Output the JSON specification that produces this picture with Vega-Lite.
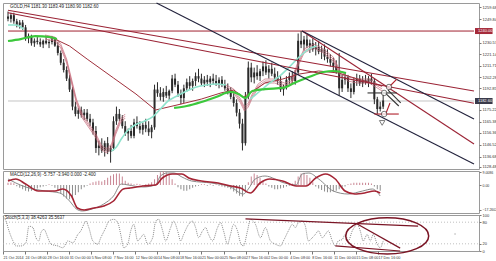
{
  "$schema": "https://vega.github.io/schema/vega-lite/v6.json",
  "background": "white",
  "padding": {"left": 0, "top": 1, "right": 0, "bottom": 0},
  "spacing": 2,
  "bounds": "flush",
  "config": {
    "font": "Liberation Sans",
    "view": {"stroke": "#9a9a9a", "strokeWidth": 1},
    "axis": {"labelFontSize": 4, "labelColor": "#333", "domain": false, "grid": false, "tickSize": 2, "tickColor": "#777", "labelPadding": 1}
  },
  "datasets": {
    "candles": [
      {"t":0,"o":1252,"h":1256,"l":1248,"c":1250},{"t":3,"o":1250,"h":1255,"l":1247,"c":1253},{"t":6,"o":1253,"h":1255,"l":1246,"c":1248},{"t":9,"o":1248,"h":1250,"l":1243,"c":1245},
      {"t":12,"o":1245,"h":1249,"l":1242,"c":1247},{"t":15,"o":1247,"h":1249,"l":1241,"c":1243},{"t":18,"o":1243,"h":1245,"l":1232,"c":1234},{"t":21,"o":1234,"h":1238,"l":1230,"c":1236},
      {"t":24,"o":1236,"h":1237,"l":1228,"c":1230},{"t":27,"o":1230,"h":1234,"l":1227,"c":1232},{"t":30,"o":1232,"h":1235,"l":1229,"c":1231},{"t":33,"o":1231,"h":1234,"l":1227,"c":1229},
      {"t":36,"o":1229,"h":1233,"l":1226,"c":1232},{"t":39,"o":1232,"h":1235,"l":1229,"c":1230},{"t":42,"o":1230,"h":1233,"l":1226,"c":1231},{"t":45,"o":1231,"h":1236,"l":1229,"c":1233},
      {"t":48,"o":1233,"h":1235,"l":1227,"c":1228},{"t":51,"o":1228,"h":1231,"l":1220,"c":1222},{"t":54,"o":1222,"h":1224,"l":1212,"c":1214},{"t":57,"o":1214,"h":1217,"l":1206,"c":1208},
      {"t":60,"o":1208,"h":1211,"l":1199,"c":1201},{"t":63,"o":1201,"h":1204,"l":1190,"c":1192},{"t":66,"o":1192,"h":1194,"l":1175,"c":1178},{"t":69,"o":1178,"h":1182,"l":1170,"c":1172},
      {"t":72,"o":1172,"h":1177,"l":1168,"c":1175},{"t":75,"o":1175,"h":1178,"l":1169,"c":1171},{"t":78,"o":1171,"h":1176,"l":1167,"c":1173},{"t":81,"o":1173,"h":1176,"l":1166,"c":1168},
      {"t":84,"o":1168,"h":1172,"l":1162,"c":1165},{"t":87,"o":1165,"h":1168,"l":1155,"c":1158},{"t":90,"o":1158,"h":1162,"l":1140,"c":1144},{"t":93,"o":1144,"h":1150,"l":1138,"c":1146},
      {"t":96,"o":1146,"h":1152,"l":1140,"c":1142},{"t":99,"o":1142,"h":1150,"l":1137,"c":1148},{"t":102,"o":1148,"h":1153,"l":1139,"c":1141},{"t":105,"o":1141,"h":1146,"l":1132,"c":1144},
      {"t":108,"o":1144,"h":1170,"l":1142,"c":1166},{"t":111,"o":1166,"h":1178,"l":1163,"c":1172},{"t":114,"o":1172,"h":1176,"l":1166,"c":1168},{"t":117,"o":1168,"h":1171,"l":1160,"c":1162},
      {"t":120,"o":1162,"h":1166,"l":1154,"c":1156},{"t":123,"o":1156,"h":1160,"l":1150,"c":1158},{"t":126,"o":1158,"h":1163,"l":1152,"c":1154},{"t":129,"o":1154,"h":1168,"l":1152,"c":1165},
      {"t":132,"o":1165,"h":1170,"l":1160,"c":1162},{"t":135,"o":1162,"h":1166,"l":1156,"c":1159},{"t":138,"o":1159,"h":1165,"l":1155,"c":1163},{"t":141,"o":1163,"h":1168,"l":1157,"c":1160},
      {"t":144,"o":1160,"h":1166,"l":1154,"c":1157},{"t":147,"o":1157,"h":1163,"l":1152,"c":1161},{"t":150,"o":1161,"h":1196,"l":1159,"c":1192},{"t":153,"o":1192,"h":1198,"l":1186,"c":1189},
      {"t":156,"o":1189,"h":1194,"l":1183,"c":1186},{"t":159,"o":1186,"h":1193,"l":1182,"c":1190},{"t":162,"o":1190,"h":1195,"l":1185,"c":1187},{"t":165,"o":1187,"h":1192,"l":1183,"c":1191},
      {"t":168,"o":1191,"h":1204,"l":1189,"c":1201},{"t":171,"o":1201,"h":1205,"l":1194,"c":1196},{"t":174,"o":1196,"h":1199,"l":1186,"c":1189},{"t":177,"o":1189,"h":1192,"l":1180,"c":1185},
      {"t":180,"o":1185,"h":1196,"l":1181,"c":1193},{"t":183,"o":1193,"h":1201,"l":1190,"c":1198},{"t":186,"o":1198,"h":1203,"l":1192,"c":1195},{"t":189,"o":1195,"h":1201,"l":1191,"c":1199},
      {"t":192,"o":1199,"h":1206,"l":1195,"c":1203},{"t":195,"o":1203,"h":1209,"l":1198,"c":1201},{"t":198,"o":1201,"h":1205,"l":1195,"c":1197},{"t":201,"o":1197,"h":1203,"l":1194,"c":1200},
      {"t":204,"o":1200,"h":1204,"l":1195,"c":1198},{"t":207,"o":1198,"h":1203,"l":1194,"c":1201},{"t":210,"o":1201,"h":1205,"l":1196,"c":1199},{"t":213,"o":1199,"h":1204,"l":1195,"c":1197},
      {"t":216,"o":1197,"h":1202,"l":1193,"c":1200},{"t":219,"o":1200,"h":1203,"l":1194,"c":1196},{"t":222,"o":1196,"h":1200,"l":1191,"c":1193},{"t":225,"o":1193,"h":1197,"l":1188,"c":1190},
      {"t":228,"o":1190,"h":1194,"l":1184,"c":1186},{"t":231,"o":1186,"h":1189,"l":1178,"c":1181},{"t":234,"o":1181,"h":1184,"l":1170,"c":1173},{"t":237,"o":1173,"h":1176,"l":1160,"c":1164},
      {"t":240,"o":1164,"h":1168,"l":1142,"c":1148},{"t":243,"o":1148,"h":1190,"l":1146,"c":1186},{"t":246,"o":1186,"h":1215,"l":1184,"c":1210},{"t":249,"o":1210,"h":1214,"l":1198,"c":1202},
      {"t":252,"o":1202,"h":1210,"l":1197,"c":1206},{"t":255,"o":1206,"h":1212,"l":1200,"c":1203},{"t":258,"o":1203,"h":1209,"l":1199,"c":1207},{"t":261,"o":1207,"h":1215,"l":1203,"c":1211},
      {"t":264,"o":1211,"h":1216,"l":1204,"c":1206},{"t":267,"o":1206,"h":1212,"l":1201,"c":1209},{"t":270,"o":1209,"h":1214,"l":1203,"c":1205},{"t":273,"o":1205,"h":1210,"l":1199,"c":1202},
      {"t":276,"o":1202,"h":1207,"l":1196,"c":1199},{"t":279,"o":1199,"h":1203,"l":1190,"c":1192},{"t":282,"o":1192,"h":1196,"l":1187,"c":1194},{"t":285,"o":1194,"h":1203,"l":1192,"c":1200},
      {"t":288,"o":1200,"h":1206,"l":1196,"c":1203},{"t":291,"o":1203,"h":1207,"l":1197,"c":1199},{"t":294,"o":1199,"h":1208,"l":1196,"c":1206},{"t":297,"o":1206,"h":1238,"l":1204,"c":1232},
      {"t":300,"o":1232,"h":1240,"l":1226,"c":1229},{"t":303,"o":1229,"h":1236,"l":1224,"c":1233},{"t":306,"o":1233,"h":1237,"l":1226,"c":1228},{"t":309,"o":1228,"h":1233,"l":1222,"c":1230},
      {"t":312,"o":1230,"h":1234,"l":1223,"c":1225},{"t":315,"o":1225,"h":1231,"l":1220,"c":1227},{"t":318,"o":1227,"h":1232,"l":1221,"c":1223},{"t":321,"o":1223,"h":1228,"l":1217,"c":1225},
      {"t":324,"o":1225,"h":1229,"l":1216,"c":1219},{"t":327,"o":1219,"h":1225,"l":1214,"c":1217},{"t":330,"o":1217,"h":1221,"l":1211,"c":1214},{"t":333,"o":1214,"h":1218,"l":1208,"c":1211},
      {"t":336,"o":1211,"h":1216,"l":1205,"c":1207},{"t":339,"o":1207,"h":1222,"l":1187,"c":1193},{"t":342,"o":1193,"h":1204,"l":1190,"c":1200},{"t":345,"o":1200,"h":1206,"l":1196,"c":1202},
      {"t":348,"o":1202,"h":1204,"l":1190,"c":1193},{"t":351,"o":1193,"h":1197,"l":1185,"c":1190},{"t":354,"o":1190,"h":1202,"l":1188,"c":1199},{"t":357,"o":1199,"h":1205,"l":1195,"c":1201},
      {"t":360,"o":1201,"h":1204,"l":1195,"c":1197},{"t":363,"o":1197,"h":1203,"l":1194,"c":1200},{"t":366,"o":1200,"h":1204,"l":1196,"c":1198},{"t":369,"o":1198,"h":1203,"l":1194,"c":1201},
      {"t":372,"o":1201,"h":1205,"l":1196,"c":1199},{"t":375,"o":1199,"h":1201,"l":1180,"c":1184},{"t":378,"o":1184,"h":1186,"l":1172,"c":1176},{"t":381,"o":1176,"h":1182,"l":1174,"c":1178},
      {"t":384,"o":1178,"h":1188,"l":1176,"c":1183}
    ],
    "ma": [
      {"s":"green","g":1,"t":0,"p":1231.8},{"s":"green","g":1,"t":13,"p":1233.4},{"s":"green","g":1,"t":28,"p":1235.9},{"s":"green","g":1,"t":43,"p":1235.1},{"s":"green","g":1,"t":50,"p":1233.4},
      {"s":"green","g":2,"t":170,"p":1176.9},{"s":"green","g":2,"t":183,"p":1178.5},{"s":"green","g":2,"t":198,"p":1181.8},{"s":"green","g":2,"t":213,"p":1185.9},{"s":"green","g":2,"t":228,"p":1190.0},
      {"s":"green","g":2,"t":236,"p":1188.3},{"s":"green","g":2,"t":243,"p":1185.1},{"s":"green","g":2,"t":250,"p":1190.8},{"s":"green","g":2,"t":263,"p":1192.4},{"s":"green","g":2,"t":281,"p":1193.3},
      {"s":"green","g":2,"t":293,"p":1197.4},{"s":"green","g":2,"t":308,"p":1202.3},{"s":"green","g":2,"t":323,"p":1206.4},{"s":"green","g":2,"t":333,"p":1207.2},{"s":"green","g":2,"t":346,"p":1205.6},
      {"s":"cyan","g":1,"t":0,"p":1244.9},{"s":"cyan","g":1,"t":8,"p":1244.9},{"s":"cyan","g":1,"t":16,"p":1241.6},
      {"s":"cyan","g":2,"t":106,"p":1141.6},{"s":"cyan","g":2,"t":111,"p":1144.9},{"s":"cyan","g":2,"t":116,"p":1151.4},{"s":"cyan","g":2,"t":122,"p":1158.0},{"s":"cyan","g":2,"t":130,"p":1162.9},
      {"s":"cyan","g":2,"t":140,"p":1166.2},{"s":"cyan","g":2,"t":148,"p":1169.5},{"s":"cyan","g":2,"t":156,"p":1176.0},{"s":"cyan","g":2,"t":164,"p":1182.6},{"s":"cyan","g":2,"t":173,"p":1186.7},
      {"s":"cyan","g":2,"t":183,"p":1190.8},{"s":"cyan","g":2,"t":193,"p":1194.1},{"s":"cyan","g":2,"t":203,"p":1195.7},{"s":"cyan","g":2,"t":213,"p":1196.5},{"s":"cyan","g":2,"t":223,"p":1195.7},
      {"s":"cyan","g":3,"t":248,"p":1184.2},{"s":"cyan","g":3,"t":258,"p":1190.8},{"s":"cyan","g":3,"t":268,"p":1197.4},{"s":"cyan","g":3,"t":278,"p":1203.1},{"s":"cyan","g":3,"t":288,"p":1210.5},
      {"s":"cyan","g":3,"t":298,"p":1218.7},{"s":"cyan","g":3,"t":308,"p":1225.2},{"s":"cyan","g":3,"t":316,"p":1227.7},
      {"s":"maroon","g":1,"t":38,"p":1235.9},{"s":"maroon","g":1,"t":48,"p":1233.4},{"s":"maroon","g":1,"t":63,"p":1227.7},{"s":"maroon","g":1,"t":81,"p":1217.0},{"s":"maroon","g":1,"t":108,"p":1201.5},
      {"s":"maroon","g":1,"t":131,"p":1188.3},{"s":"maroon","g":1,"t":151,"p":1175.2},{"s":"maroon","g":1,"t":173,"p":1179.3},{"s":"maroon","g":1,"t":198,"p":1184.2},{"s":"maroon","g":1,"t":218,"p":1189.2},
      {"s":"maroon","g":1,"t":231,"p":1191.6},{"s":"maroon","g":1,"t":241,"p":1185.9},{"s":"maroon","g":1,"t":248,"p":1189.2},{"s":"maroon","g":1,"t":263,"p":1197.4},{"s":"maroon","g":1,"t":281,"p":1200.6},
      {"s":"maroon","g":1,"t":298,"p":1204.7},{"s":"maroon","g":1,"t":318,"p":1207.2},{"s":"maroon","g":1,"t":338,"p":1205.6},{"s":"maroon","g":1,"t":358,"p":1200.6},{"s":"maroon","g":1,"t":383,"p":1194.9},
      {"s":"band","g":1,"t":38,"p":1235.1},{"s":"band","g":1,"t":48,"p":1233.4},{"s":"band","g":1,"t":54,"p":1227.7},{"s":"band","g":1,"t":60,"p":1215.4},{"s":"band","g":1,"t":65,"p":1199.0},
      {"s":"band","g":1,"t":70,"p":1182.6},{"s":"band","g":1,"t":76,"p":1170.3},{"s":"band","g":1,"t":83,"p":1162.1},{"s":"band","g":1,"t":90,"p":1153.9},{"s":"band","g":1,"t":96,"p":1144.1},
      {"s":"band","g":1,"t":101,"p":1141.6},{"s":"band","g":1,"t":106,"p":1145.7},{"s":"band","g":1,"t":110,"p":1156.4},{"s":"band","g":1,"t":115,"p":1166.2},{"s":"band","g":1,"t":120,"p":1170.3},
      {"s":"band","g":2,"t":223,"p":1194.1},{"s":"band","g":2,"t":231,"p":1190.8},{"s":"band","g":2,"t":238,"p":1182.6},{"s":"band","g":2,"t":242,"p":1176.0},{"s":"band","g":2,"t":246,"p":1179.3},
      {"s":"band","g":2,"t":250,"p":1186.7},{"s":"band","g":2,"t":256,"p":1194.9},{"s":"band","g":2,"t":263,"p":1199.0},{"s":"band","g":2,"t":273,"p":1199.0},{"s":"band","g":2,"t":283,"p":1195.7},
      {"s":"band","g":2,"t":290,"p":1197.4},{"s":"band","g":2,"t":296,"p":1211.3},{"s":"band","g":2,"t":303,"p":1223.6},{"s":"band","g":2,"t":313,"p":1227.7},{"s":"band","g":2,"t":323,"p":1223.6},
      {"s":"band","g":2,"t":333,"p":1217.0},{"s":"band","g":2,"t":340,"p":1205.6},{"s":"band","g":2,"t":348,"p":1200.6},{"s":"band","g":2,"t":358,"p":1199.0},{"s":"band","g":2,"t":370,"p":1199.0},
      {"s":"band","g":2,"t":383,"p":1192.4}
    ],
    "segs": [
      {"grp":"trend","t":0,"p":1257.0,"t2":477,"p2":1190.8},
      {"grp":"trend","t":0,"p":1255.0,"t2":477,"p2":1180.8},
      {"grp":"trend","t":301,"p":1240.0,"t2":477,"p2":1147.3},
      {"grp":"channel","t":301,"p":1240.0,"t2":477,"p2":1167.8},
      {"grp":"channel","t":152,"p":1263.0,"t2":477,"p2":1130.9},
      {"grp":"noteb","t":368,"p":1189.2,"t2":398,"p2":1189.2},
      {"grp":"noteb","t":386,"p":1189.2,"t2":400,"p2":1178.5},
      {"grp":"noteb","t":389,"p":1191.6,"t2":402,"p2":1181.0},
      {"grp":"note","t":391,"p":1194.9,"t2":398,"p2":1200.6},
      {"grp":"note","t":375,"p":1171.9,"t2":400,"p2":1171.9},
      {"grp":"note","t":387,"p":1172.8,"t2":391,"p2":1180.9}
    ],
    "marks": [
      {"t":385,"p":1189.2,"sym":"circle"},
      {"t":390,"p":1194.1,"sym":"circle"},
      {"t":385,"p":1171.9,"sym":"circle"},
      {"t":383,"p":1164.6,"sym":"triangle-down"}
    ],
    "levels": [{"t":0,"t2":477,"p":1240.0,"grp":"trend"},{"t":0,"t2":477,"p":1182.6,"grp":"cur"}],
    "tags": [{"t":478,"t2":496,"p":1240.0,"lbl":"1240.00","grp":"trend"},{"t":478,"t2":496,"p":1182.6,"lbl":"1182.60","grp":"cur"}],
    "macd": [
      {"k":"main","t":0,"v":4.2},{"k":"main","t":8,"v":1.4},{"k":"main","t":18,"v":-1.4},{"k":"main","t":38,"v":-4.2},{"k":"main","t":53,"v":-5.6},{"k":"main","t":63,"v":-11.2},
      {"k":"main","t":70,"v":-16.8},{"k":"main","t":76,"v":-18.2},{"k":"main","t":86,"v":-16.8},{"k":"main","t":98,"v":-13.3},{"k":"main","t":108,"v":-7.7},{"k":"main","t":116,"v":0.7},
      {"k":"main","t":123,"v":0},{"k":"main","t":138,"v":-1.4},{"k":"main","t":151,"v":0},{"k":"main","t":156,"v":6.3},{"k":"main","t":163,"v":8.4},{"k":"main","t":170,"v":8.4},
      {"k":"main","t":178,"v":5.6},{"k":"main","t":188,"v":2.8},{"k":"main","t":208,"v":1.4},{"k":"main","t":228,"v":-1.4},{"k":"main","t":241,"v":-6.3},{"k":"main","t":246,"v":-2.8},
      {"k":"main","t":253,"v":4.2},{"k":"main","t":263,"v":6.3},{"k":"main","t":283,"v":1.4},{"k":"main","t":295,"v":0},{"k":"main","t":301,"v":7.7},{"k":"main","t":308,"v":8.4},
      {"k":"main","t":318,"v":4.2},{"k":"main","t":333,"v":-4.2},{"k":"main","t":348,"v":-6.3},{"k":"main","t":363,"v":-4.2},{"k":"main","t":373,"v":-2.8},{"k":"main","t":381,"v":-7.7},
      {"k":"sig","t":0,"v":2.8},{"k":"sig","t":8,"v":4.2},{"k":"sig","t":18,"v":0.7},{"k":"sig","t":31,"v":-4.2},{"k":"sig","t":48,"v":-4.2},{"k":"sig","t":56,"v":-2.8},
      {"k":"sig","t":65,"v":-7.7},{"k":"sig","t":71,"v":-16.1},{"k":"sig","t":78,"v":-17.5},{"k":"sig","t":88,"v":-16.1},{"k":"sig","t":98,"v":-14.7},{"k":"sig","t":108,"v":-11.2},
      {"k":"sig","t":118,"v":-2.8},{"k":"sig","t":125,"v":-2.1},{"k":"sig","t":138,"v":-0.7},{"k":"sig","t":151,"v":0},{"k":"sig","t":158,"v":4.9},{"k":"sig","t":168,"v":7.7},
      {"k":"sig","t":178,"v":7.7},{"k":"sig","t":185,"v":4.9},{"k":"sig","t":198,"v":2.8},{"k":"sig","t":215,"v":1.4},{"k":"sig","t":228,"v":-0.7},{"k":"sig","t":238,"v":-2.1},
      {"k":"sig","t":248,"v":-5.6},{"k":"sig","t":258,"v":1.4},{"k":"sig","t":268,"v":4.2},{"k":"sig","t":281,"v":2.8},{"k":"sig","t":295,"v":-0.7},{"k":"sig","t":305,"v":-0.7},
      {"k":"sig","t":315,"v":4.9},{"k":"sig","t":325,"v":7.7},{"k":"sig","t":335,"v":4.2},{"k":"sig","t":345,"v":-4.2},{"k":"sig","t":355,"v":-6.3},{"k":"sig","t":365,"v":-5.6},
      {"k":"sig","t":375,"v":-4.2},{"k":"sig","t":381,"v":-5.6}
    ],
    "hist": [
      {"t":0,"v":1.5},{"t":3,"v":1.8},{"t":6,"v":1.2},{"t":9,"v":-0.8},{"t":12,"v":-2},{"t":15,"v":-3},{"t":18,"v":-4},{"t":21,"v":-4.5},{"t":24,"v":-4},{"t":27,"v":-3.5},
      {"t":30,"v":-2.5},{"t":33,"v":-1.5},{"t":36,"v":-1},{"t":39,"v":-0.5},{"t":42,"v":0.5},{"t":45,"v":-0.5},{"t":48,"v":-2},{"t":51,"v":-4},{"t":54,"v":-6},{"t":57,"v":-8},
      {"t":60,"v":-9.5},{"t":63,"v":-10},{"t":66,"v":-9},{"t":69,"v":-7},{"t":72,"v":-5},{"t":75,"v":-3},{"t":78,"v":-1.5},{"t":81,"v":-0.5},{"t":84,"v":1},{"t":87,"v":2},
      {"t":90,"v":2.5},{"t":93,"v":3},{"t":96,"v":2.5},{"t":99,"v":3.5},{"t":102,"v":5},{"t":105,"v":6.5},{"t":108,"v":7.5},{"t":111,"v":8},{"t":114,"v":8},{"t":117,"v":6},
      {"t":120,"v":3},{"t":123,"v":1.5},{"t":126,"v":1},{"t":129,"v":0.5},{"t":132,"v":0.8},{"t":135,"v":0.5},{"t":138,"v":-0.5},{"t":141,"v":0.5},{"t":144,"v":1},{"t":147,"v":2},
      {"t":150,"v":4},{"t":153,"v":7},{"t":156,"v":9},{"t":159,"v":9.6},{"t":162,"v":9},{"t":165,"v":7},{"t":168,"v":4},{"t":171,"v":1},{"t":174,"v":-1.5},{"t":177,"v":-3},
      {"t":180,"v":-4},{"t":183,"v":-4},{"t":186,"v":-3},{"t":189,"v":-2},{"t":192,"v":-1},{"t":195,"v":-0.5},{"t":198,"v":0.5},{"t":201,"v":0.5},{"t":204,"v":-0.5},{"t":207,"v":0.5},
      {"t":210,"v":-0.5},{"t":213,"v":0.5},{"t":216,"v":-0.5},{"t":219,"v":-1},{"t":222,"v":-1.5},{"t":225,"v":-2},{"t":228,"v":-3},{"t":231,"v":-4.5},{"t":234,"v":-6},{"t":237,"v":-7.5},
      {"t":240,"v":-8},{"t":243,"v":-5},{"t":246,"v":2},{"t":249,"v":6},{"t":252,"v":8},{"t":255,"v":7},{"t":258,"v":5},{"t":261,"v":3},{"t":264,"v":1},{"t":267,"v":-1},
      {"t":270,"v":-2},{"t":273,"v":-3},{"t":276,"v":-3},{"t":279,"v":-2.5},{"t":282,"v":-2},{"t":285,"v":-1},{"t":288,"v":-0.5},{"t":291,"v":1},{"t":294,"v":3},{"t":297,"v":6},
      {"t":300,"v":8},{"t":303,"v":8.5},{"t":306,"v":7},{"t":309,"v":5},{"t":312,"v":2},{"t":315,"v":-1},{"t":318,"v":-2.5},{"t":321,"v":-3.5},{"t":324,"v":-4.5},{"t":327,"v":-5},
      {"t":330,"v":-5},{"t":333,"v":-4.5},{"t":336,"v":-4},{"t":339,"v":-3},{"t":342,"v":-2},{"t":345,"v":-1},{"t":348,"v":0.5},{"t":351,"v":1},{"t":354,"v":1.5},{"t":357,"v":1.5},
      {"t":360,"v":1.5},{"t":363,"v":1.5},{"t":366,"v":1.5},{"t":369,"v":1.5},{"t":372,"v":1},{"t":375,"v":-1},{"t":378,"v":-3},{"t":381,"v":-4}
    ],
    "stoch": [
      {"t":0,"v":97},{"t":3,"v":83},{"t":6,"v":56},{"t":10,"v":28},{"t":13,"v":14},{"t":18,"v":14},{"t":23,"v":23},{"t":26,"v":69},{"t":30,"v":65},{"t":33,"v":37},
      {"t":36,"v":28},{"t":38,"v":51},{"t":41,"v":60},{"t":45,"v":37},{"t":48,"v":19},{"t":55,"v":14},{"t":60,"v":9},{"t":65,"v":28},{"t":70,"v":23},{"t":75,"v":46},
      {"t":78,"v":56},{"t":81,"v":74},{"t":83,"v":83},{"t":86,"v":65},{"t":90,"v":28},{"t":95,"v":19},{"t":98,"v":37},{"t":103,"v":65},{"t":106,"v":83},{"t":111,"v":88},
      {"t":115,"v":79},{"t":118,"v":46},{"t":121,"v":9},{"t":125,"v":19},{"t":128,"v":56},{"t":131,"v":74},{"t":135,"v":28},{"t":138,"v":37},{"t":141,"v":46},{"t":145,"v":19},
      {"t":150,"v":37},{"t":153,"v":83},{"t":156,"v":88},{"t":160,"v":56},{"t":163,"v":28},{"t":168,"v":65},{"t":171,"v":83},{"t":175,"v":56},{"t":178,"v":28},{"t":181,"v":46},
      {"t":186,"v":74},{"t":190,"v":83},{"t":193,"v":65},{"t":196,"v":37},{"t":200,"v":56},{"t":203,"v":65},{"t":206,"v":46},{"t":210,"v":28},{"t":215,"v":65},{"t":218,"v":79},
      {"t":221,"v":56},{"t":225,"v":19},{"t":228,"v":46},{"t":231,"v":74},{"t":235,"v":56},{"t":238,"v":23},{"t":241,"v":14},{"t":245,"v":56},{"t":248,"v":88},{"t":253,"v":74},
      {"t":258,"v":37},{"t":263,"v":65},{"t":268,"v":28},{"t":273,"v":19},{"t":278,"v":14},{"t":281,"v":28},{"t":286,"v":56},{"t":290,"v":74},{"t":293,"v":65},{"t":296,"v":79},
      {"t":300,"v":83},{"t":303,"v":69},{"t":306,"v":28},{"t":310,"v":37},{"t":313,"v":46},{"t":316,"v":56},{"t":320,"v":37},{"t":323,"v":46},{"t":326,"v":56},{"t":330,"v":28},
      {"t":333,"v":14},{"t":336,"v":28},{"t":340,"v":32},{"t":343,"v":46},{"t":346,"v":28},{"t":350,"v":56},{"t":353,"v":69},{"t":355,"v":74},{"t":358,"v":56},{"t":361,"v":28},
      {"t":365,"v":46},{"t":368,"v":28},{"t":371,"v":46},{"t":375,"v":19},{"t":378,"v":9},{"t":381,"v":28}
    ],
    "sseg": [
      {"t":243,"v":89,"t2":416,"v2":69},
      {"t":355,"v":75,"t2":398,"v2":8},
      {"t":333,"v":14,"t2":398,"v2":0}
    ],
    "slevels": [{"t":0,"t2":477,"v":80},{"t":0,"t2":477,"v":20}]
  },
  "vconcat": [
    {
      "width": 476,
      "height": 166,
      "resolve": {"scale": {"color": "independent"}},
      "encoding": {
        "x": {"field": "t", "type": "quantitative", "scale": {"domain": [0, 477], "nice": false, "zero": false}, "axis": null},
        "y": {"field": "p", "type": "quantitative", "scale": {"domain": [1126.8, 1263.0], "nice": false, "zero": false},
              "axis": {"orient": "right", "title": null, "values": [1259.68,1249.84,1230.57,1221.14,1211.71,1202.28,1192.85,1175.22,1165.38,1156.36,1146.52,1136.68,1128.48], "format": ".2f", "labelOverlap": false}}
      },
      "layer": [
        {
          "data": {"name": "levels"},
          "mark": {"type": "rule", "strokeWidth": 1},
          "encoding": {
            "x2": {"field": "t2"},
            "color": {"field": "grp", "type": "nominal", "scale": {"domain": ["trend","cur"], "range": ["#a02030","#c4c4c4"]}, "legend": null}
          }
        },
        {
          "data": {"name": "candles"},
          "mark": {"type": "rule", "color": "#2a2a2a", "strokeWidth": 1},
          "encoding": {
            "y": {"field": "l", "type": "quantitative",
                  "axis": {"orient": "right", "title": null, "values": [1259.68,1249.84,1230.57,1221.14,1211.71,1202.28,1192.85,1175.22,1165.38,1156.36,1146.52,1136.68,1128.48], "format": ".2f", "labelOverlap": false}},
            "y2": {"field": "h"}
          }
        },
        {
          "data": {"name": "candles"},
          "mark": {"type": "bar", "width": 2, "color": "#2a2a2a"},
          "encoding": {
            "y": {"field": "o", "type": "quantitative",
                  "axis": {"orient": "right", "title": null, "values": [1259.68,1249.84,1230.57,1221.14,1211.71,1202.28,1192.85,1175.22,1165.38,1156.36,1146.52,1136.68,1128.48], "format": ".2f", "labelOverlap": false}},
            "y2": {"field": "c"}
          }
        },
        {
          "data": {"name": "ma"},
          "transform": [{"filter": "datum.s == 'band'"}],
          "mark": {"type": "line", "color": "#c66a7a", "strokeWidth": 0.7, "yOffset": -2},
          "encoding": {"detail": {"field": "g"}}
        },
        {
          "data": {"name": "ma"},
          "transform": [{"filter": "datum.s == 'band'"}],
          "mark": {"type": "line", "color": "#c66a7a", "strokeWidth": 0.7},
          "encoding": {"detail": {"field": "g"}}
        },
        {
          "data": {"name": "ma"},
          "transform": [{"filter": "datum.s == 'band'"}],
          "mark": {"type": "line", "color": "#c66a7a", "strokeWidth": 0.7, "yOffset": 2},
          "encoding": {"detail": {"field": "g"}}
        },
        {
          "data": {"name": "ma"},
          "transform": [{"filter": "datum.s == 'maroon'"}],
          "mark": {"type": "line", "color": "#a0303c", "strokeWidth": 1},
          "encoding": {"detail": {"field": "g"}}
        },
        {
          "data": {"name": "ma"},
          "transform": [{"filter": "datum.s == 'cyan'"}],
          "mark": {"type": "line", "color": "#8fe3cd", "strokeWidth": 1.6, "interpolate": "monotone"},
          "encoding": {"detail": {"field": "g"}}
        },
        {
          "data": {"name": "ma"},
          "transform": [{"filter": "datum.s == 'green'"}],
          "mark": {"type": "line", "color": "#3cc83c", "strokeWidth": 2.2, "interpolate": "monotone"},
          "encoding": {"detail": {"field": "g"}}
        },
        {
          "data": {"name": "segs"},
          "mark": {"type": "rule", "strokeWidth": 1.1},
          "encoding": {
            "x2": {"field": "t2"},
            "y2": {"field": "p2"},
            "color": {"field": "grp", "type": "nominal", "scale": {"domain": ["trend","channel","note","noteb"], "range": ["#9b2335","#22223c","#b0202c","#333333"]}, "legend": null}
          }
        },
        {
          "data": {"name": "marks"},
          "mark": {"type": "point", "filled": true, "fill": "white", "stroke": "#444", "strokeWidth": 1, "size": 30},
          "encoding": {
            "shape": {"field": "sym", "type": "nominal", "scale": {"domain": ["circle","triangle-down"], "range": ["circle","triangle-down"]}, "legend": null}
          }
        },
        {
          "data": {"values": [{"t": 2, "p": 1262.0, "txt": "GOLD,H4  1181.30 1183.49 1180.90 1182.60"}]},
          "mark": {"type": "text", "align": "left", "baseline": "top", "fontSize": 4.5, "color": "#222"},
          "encoding": {"text": {"field": "txt"}}
        },
        {
          "data": {"name": "tags"},
          "mark": {"type": "rect", "height": 6},
          "encoding": {
            "x2": {"field": "t2"},
            "color": {"field": "grp", "type": "nominal", "scale": {"domain": ["trend","cur"], "range": ["#a52a3a","#3a3a4a"]}, "legend": null}
          }
        },
        {
          "data": {"name": "tags"},
          "mark": {"type": "text", "align": "left", "baseline": "middle", "fontSize": 4, "color": "white", "dx": 3},
          "encoding": {"text": {"field": "lbl"}}
        }
      ]
    },
    {
      "width": 476,
      "height": 42,
      "encoding": {
        "x": {"field": "t", "type": "quantitative", "scale": {"domain": [0, 477], "nice": false, "zero": false}, "axis": null},
        "y": {"field": "v", "type": "quantitative", "scale": {"domain": [-19.6, 9.8], "nice": false, "zero": false},
              "axis": {"orient": "right", "title": null, "values": [9.0086, 0, -17.2602], "labelExpr": "datum.value == 0 ? '0.00' : format(datum.value, '.4f')", "labelOverlap": false, "labelFontSize": 3.5}}
      },
      "layer": [
        {
          "data": {"name": "hist"},
          "mark": {"type": "bar", "width": 1},
          "encoding": {
            "y2": {"datum": 0},
            "color": {"condition": {"test": "datum.v > 0", "value": "#c98593"}, "value": "#8c8c8c"}
          }
        },
        {
          "data": {"name": "macd"},
          "transform": [{"filter": "datum.k == 'main'"}],
          "mark": {"type": "line", "color": "#8a8a8a", "strokeWidth": 1, "interpolate": "monotone"}
        },
        {
          "data": {"name": "macd"},
          "transform": [{"filter": "datum.k == 'sig'"}],
          "mark": {"type": "line", "color": "#a52535", "strokeWidth": 1.6, "interpolate": "monotone"}
        },
        {
          "data": {"values": [{"t": 2, "v": 9.4, "txt": "MACD(12,26,9) -5.757 -3.940 0.000 -2.400"}]},
          "mark": {"type": "text", "align": "left", "baseline": "top", "fontSize": 4.5, "color": "#222"},
          "encoding": {"text": {"field": "txt"}}
        }
      ]
    },
    {
      "width": 476,
      "height": 36,
      "encoding": {
        "x": {"field": "t", "type": "quantitative", "scale": {"domain": [0, 477], "nice": false, "zero": false},
              "axis": {"orient": "bottom", "title": null, "values": [0,22.1,44.2,66.3,88.4,110.5,132.6,154.7,176.8,198.9,221,243.1,265.2,287.3,309.4,331.5,353.6,375.7],
                       "labelExpr": "['21 Oct 2014','24 Oct 08:00','28 Oct 16:00','31 Oct 00:00','5 Nov 08:00','7 Nov 16:00','12 Nov 00:00','14 Nov 08:00','18 Nov 16:00','21 Nov 00:00','25 Nov 08:00','27 Nov 16:00','2 Dec 00:00','4 Dec 08:00','8 Dec 16:00','11 Dec 00:00','15 Dec 08:00','17 Dec 16:00'][round(datum.value / 22.1)]",
                       "labelAlign": "left", "labelBaseline": "top", "tickSize": 3, "labelPadding": 1, "labelFontSize": 3.7, "labelOverlap": false, "labelFlush": false, "labelBound": false}},
        "y": {"field": "v", "type": "quantitative", "scale": {"domain": [0, 100], "nice": false},
              "axis": {"orient": "right", "title": null, "values": [100, 80, 20, 0], "labelOverlap": false}}
      },
      "layer": [
        {
          "data": {"name": "slevels"},
          "mark": {"type": "rule", "color": "#b0b0b0", "strokeWidth": 0.8, "strokeDash": [1, 2]},
          "encoding": {"x2": {"field": "t2"}}
        },
        {
          "data": {"name": "stoch"},
          "mark": {"type": "line", "color": "#8c8c8c", "strokeWidth": 1, "strokeDash": [1, 1], "interpolate": "monotone"}
        },
        {
          "data": {"name": "sseg"},
          "mark": {"type": "rule", "color": "#7a1525", "strokeWidth": 1.2},
          "encoding": {"x2": {"field": "t2"}, "y2": {"field": "v2"}}
        },
        {
          "data": {"values": [{"t": 385, "v": 42}]},
          "mark": {"type": "point", "shape": "M 1 0 C 1 0.2397 0.5523 0.434 0 0.434 C -0.5523 0.434 -1 0.2397 -1 0 C -1 -0.2397 -0.5523 -0.434 0 -0.434 C 0.5523 -0.434 1 -0.2397 1 0 Z", "size": 6889, "filled": false, "stroke": "#7a1525", "strokeWidth": 1.5, "opacity": 1}
        },
        {
          "data": {"values": [{"t": 453, "v": 47}]},
          "mark": {"type": "point", "shape": "circle", "size": 2, "filled": true, "color": "#888"}
        },
        {
          "data": {"values": [{"t": 2, "v": 99, "txt": "Stoch(5,3,3) 38.4263 35.5637"}]},
          "mark": {"type": "text", "align": "left", "baseline": "top", "fontSize": 4.5, "color": "#222"},
          "encoding": {"text": {"field": "txt"}}
        }
      ]
    }
  ]
}
